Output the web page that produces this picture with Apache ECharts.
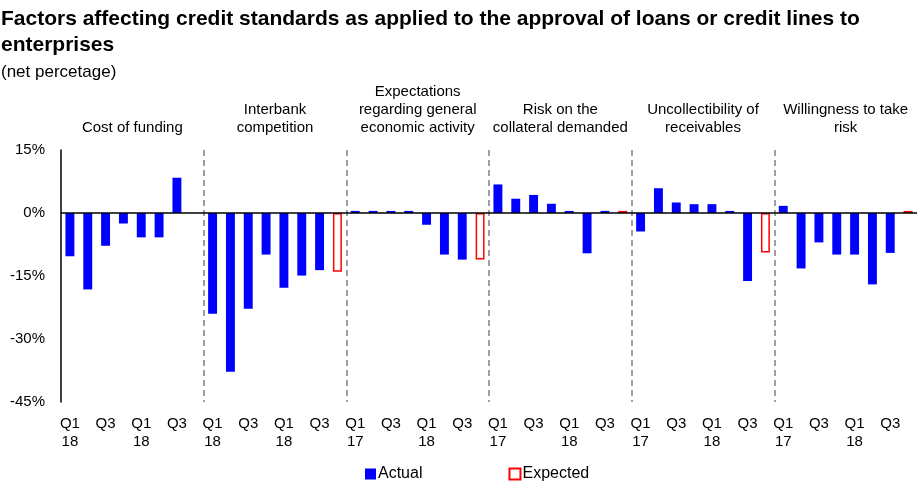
<!DOCTYPE html>
<html>
<head>
<meta charset="utf-8">
<script src="https://cdn.jsdelivr.net/npm/echarts@6/dist/echarts.min.js"></script>
<style>
  html, body { margin: 0; padding: 0; background: #fff; }
  #chart { width: 917px; height: 481px; }
</style>
</head>
<body>
<div id="chart"></div>
<script>
// ===== data =====
const groupNames = [
  'Cost of funding',
  'Interbank\ncompetition',
  'Expectations\nregarding general\neconomic activity',
  'Risk on the\ncollateral demanded',
  'Uncollectibility of\nreceivables',
  'Willingness to take\nrisk',
]

// tick labels per group (8 slots each: 7 actual + 1 expected)
const ticksGroup1 = ['Q1\n18', '', 'Q3', '', 'Q1\n18', '', 'Q3', '']
const ticksGroup2 = ['Q1\n18', '', 'Q3', '', 'Q1\n18', '', 'Q3', '']
const ticksOther = ['Q1\n17', '', 'Q3', '', 'Q1\n18', '', 'Q3', '']

// actual values (net percentage)
const costOfFunding = [-10.3, -18.2, -7.8, -2.5, -5.8, -5.8, 8.4]
const interbankCompetition = [-24.0, -37.8, -22.8, -9.9, -17.8, -14.9, -13.6]
const generalActivity = [0.5, 0.5, 0.5, 0.5, -2.8, -9.9, -11.1]
const collateralRisk = [6.8, 3.4, 4.3, 2.2, 0.5, -9.6, 0.5]
const uncollectibility = [-4.4, 5.9, 2.5, 2.1, 2.1, 0.5, -16.2]
const willingnessRisk = [1.7, -13.2, -7.0, -9.9, -9.9, -17.0, -9.5]

// expected values (one per group, null = none)
const expectedValues = [null, -14.0, -11.1, 0.5, -9.4, 0.5]

const yTicks = [-45, -30, -15, 0, 15]

// ===== build series data =====
const actualGroups = [costOfFunding, interbankCompetition, generalActivity, collateralRisk, uncollectibility, willingnessRisk]
const tickGroups = [ticksGroup1, ticksGroup2, ticksOther, ticksOther, ticksOther, ticksOther]

const categories = []
const actualData = []
const expectedData = []
actualGroups.forEach((vals, g) => {
  for (let i = 0; i < 8; i++) {
    categories.push(g + '-' + i)
    actualData.push(i < 7 ? vals[i] : null)
    expectedData.push(i === 7 ? expectedValues[g] : null)
  }
})
const tickLabels = tickGroups.flat()

const chart = echarts.init(document.getElementById('chart'))
const font = 'Liberation Sans, Arial, sans-serif'

chart.setOption({
  animation: false,
  textStyle: { fontFamily: font },
  title: {
    text: 'Factors affecting credit standards as applied to the approval of loans or credit lines to\nenterprises',
    subtext: '(net percetage)',
    left: 0,
    top: 6,
    itemGap: 4,
    padding: [0, 0, 0, 1],
    textStyle: { fontFamily: font, fontSize: 21, fontWeight: 'bold', color: '#000', lineHeight: 26 },
    subtextStyle: { fontFamily: font, fontSize: 17, color: '#000', lineHeight: 20 },
  },
  legend: {
    top: 461,
    left: 360,
    icon: 'rect',
    itemWidth: 11,
    itemHeight: 11,
    itemGap: 86,
    textStyle: { fontFamily: font, fontSize: 16, color: '#000', padding: [0, 0, 0, -3] },
    data: ['Actual', 'Expected'],
  },
  grid: { left: 61, right: 0, top: 150, bottom: 79 },
  xAxis: [
    {
      type: 'category',
      data: categories,
      axisLine: { show: false },
      axisTick: { show: false },
      axisLabel: {
        interval: 0,
        fontSize: 15,
        color: '#000',
        lineHeight: 18,
        margin: 13,
        formatter: (v, idx) => tickLabels[idx],
      },
      splitLine: {
        show: true,
        showMaxLine: false,
        interval: (idx) => idx > 0 && idx % 8 === 0,
        lineStyle: { color: '#808080', type: [6, 4], width: 1.5 },
      },
    },
    {
      type: 'category',
      position: 'top',
      data: groupNames,
      axisLine: { show: false },
      axisTick: { show: false },
      axisLabel: {
        interval: 0,
        fontSize: 15,
        color: '#000',
        lineHeight: 18,
        margin: 13,
      },
    },
  ],
  yAxis: {
    type: 'value',
    min: -45,
    max: 15,
    interval: 15,
    axisLine: { show: true, lineStyle: { color: '#000', width: 1.5 } },
    axisTick: { show: false },
    splitLine: { show: false },
    axisLabel: {
      fontSize: 15,
      color: '#000',
      margin: 16,
      formatter: (v) => (yTicks.includes(v) ? v + '%' : ''),
    },
  },
  series: [
    {
      name: 'Actual',
      type: 'bar',
      data: actualData,
      barWidth: '50%',
      barGap: '-100%',
      itemStyle: { color: '#0000ff' },
      markLine: {
        silent: true,
        symbol: 'none',
        label: { show: false },
        lineStyle: { color: '#000', width: 1.5, type: 'solid' },
        data: [{ yAxis: 0 }],
      },
    },
    {
      name: 'Expected',
      type: 'bar',
      data: expectedData,
      barWidth: '50%',
      barGap: '-100%',
      itemStyle: { color: '#ffffff', borderColor: '#ff0000', borderWidth: 1.5 },
    },
  ],
})
</script>
</body>
</html>
